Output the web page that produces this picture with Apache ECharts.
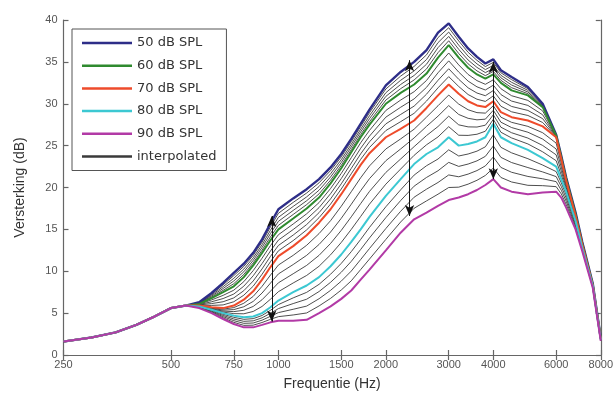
<!DOCTYPE html>
<html><head><meta charset="utf-8">
<script src="https://cdn.jsdelivr.net/npm/echarts@6/dist/echarts.min.js"></script>
<style>html,body{margin:0;padding:0;background:#fff}#c{width:616px;height:403px}</style>
</head><body><div id="c"></div>
<script>
// Frequencies (Hz) at which curves are sampled
const freqs = [250,300,350,400,450,500,550,600,650,700,750,800,850,900,950,1000,1100,1200,1300,1400,1500,1600,1700,1800,2000,2200,2400,2600,2800,3000,3200,3400,3600,3800,4000,4200,4500,5000,5500,6000,6200,6400,6800,7100,7600,8000];
// Gain (dB) per input level
const spl50 = [1.6,2.1,2.7,3.6,4.6,5.6,5.9,6.3,7.4,8.6,9.8,10.9,12.2,13.8,15.7,17.4,18.7,19.8,21.0,22.4,24.0,25.8,27.6,29.3,32.2,33.8,35.0,36.4,38.5,39.6,38.0,36.6,35.6,34.8,35.3,34.0,33.2,32.0,30.0,26.3,23.8,21.2,17.0,13.5,8.5,2.0];
const spl60 = [1.6,2.1,2.7,3.6,4.6,5.6,5.9,6.1,6.8,7.5,8.2,9.3,10.7,12.2,13.7,15.0,16.3,17.5,18.8,20.5,22.3,24.2,26.0,27.5,30.0,31.3,32.3,33.6,35.5,37.0,35.5,34.3,33.5,33.0,33.5,32.5,31.6,31.0,29.6,26.2,23.6,21.0,16.8,13.3,8.4,2.0];
const spl70 = [1.6,2.1,2.7,3.6,4.6,5.6,5.9,5.9,5.7,5.6,5.9,6.6,7.6,9.0,10.5,11.8,13.0,14.3,15.8,17.4,19.2,21.0,22.7,24.1,26.0,27.0,28.0,29.5,31.0,32.3,31.2,30.3,29.8,29.6,30.3,29.0,28.4,28.0,27.3,26.0,23.4,20.8,16.6,13.2,8.3,1.9];
const spl80 = [1.6,2.1,2.7,3.6,4.6,5.6,5.9,5.8,5.4,5.0,4.7,4.5,4.6,5.0,5.7,6.5,7.5,8.3,9.3,10.6,12.0,13.5,15.0,16.5,19.0,21.0,22.8,24.0,24.8,26.0,25.0,25.2,25.5,26.0,27.6,26.0,25.3,24.5,23.5,22.5,21.0,19.5,16.0,12.8,8.2,1.8];
const spl90 = [1.6,2.1,2.7,3.6,4.6,5.6,5.9,5.6,5.0,4.3,3.7,3.3,3.3,3.6,3.9,4.1,4.1,4.2,5.0,5.8,6.7,7.7,9.0,10.2,12.5,14.6,16.2,17.0,17.8,18.5,18.8,19.2,19.7,20.3,21.0,20.0,19.5,19.2,19.4,19.5,18.8,17.6,15.0,12.4,8.0,1.7];
const seriesNames = ['50 dB SPL','60 dB SPL','70 dB SPL','80 dB SPL','90 dB SPL'];
const interpName = 'interpolated';
const interpSteps = 4; // interpolated curves between neighbouring measured levels
// Double-headed arrows (annotation): frequency, top gain, bottom gain
const arrowFreqs = [958, 2330, 4000];
const arrowTop = [16.6, 35.2, 35.0];
const arrowBottom = [4.0, 16.6, 21.0];
const xTickLabels = [250,500,750,1000,1500,2000,3000,4000,6000,8000];

const levels = [spl50, spl60, spl70, spl80, spl90];
const colors = ['#2e2e88','#2f8a2f','#ee4b2b','#3cc8d2','#b23aa6'];
const widths = [2.4, 2, 2, 2, 2];
const lx = f => Math.log2(f);
const toData = arr => arr.map((v, i) => [lx(freqs[i]), v]);

const series = [];
for (let k = 0; k < levels.length - 1; k++) {
  for (let s = 1; s <= interpSteps; s++) {
    const t = s / (interpSteps + 1);
    const a = levels[k], b = levels[k + 1];
    series.push({
      name: interpName, type: 'line', symbol: 'none', silent: true, z: 2,
      lineStyle: {color: '#3a3a3a', width: 0.9},
      itemStyle: {color: '#3a3a3a'},
      data: toData(a.map((v, i) => v + (b[i] - v) * t))
    });
  }
}
levels.forEach((arr, k) => {
  series.push({
    name: seriesNames[k], type: 'line', symbol: 'none', silent: true, z: 3,
    lineStyle: {color: colors[k], width: widths[k]},
    itemStyle: {color: colors[k]},
    data: toData(arr)
  });
});
series.push({
  name: 'arrows', type: 'line', data: [], silent: true, z: 5,
  markLine: {
    silent: true, symbol: ['arrow', 'arrow'], symbolSize: [7, 11],
    label: {show: false},
    lineStyle: {color: '#111', width: 1, type: 'solid'},
    data: arrowFreqs.map((f, i) => [{coord: [lx(f), arrowTop[i]]}, {coord: [lx(f), arrowBottom[i]]}])
  }
});

const tickPos = xTickLabels.map(lx);
const axisLineStyle = {color: '#666', width: 1.2};
const fontFam = 'Liberation Sans, Arial, sans-serif';
const chart = echarts.init(document.getElementById('c'));
chart.setOption({
  animation: false,
  backgroundColor: '#fff',
  grid: {left: 63.5, right: 15, top: 20, bottom: 48},
  legend: {
    data: seriesNames.concat([interpName]),
    orient: 'vertical', left: 72, top: 29,
    padding: [7, 10, 7, 10],
    icon: 'rect',
    itemWidth: 50, itemHeight: 2.5, itemGap: 8.7,
    borderColor: '#555', borderWidth: 1, backgroundColor: '#fff',
    textStyle: {fontSize: 13, lineHeight: 14, color: '#333', fontFamily: 'DejaVu Sans, sans-serif'},
    selectedMode: false
  },
  xAxis: [{
    type: 'value', min: lx(250), max: lx(8000),
    name: 'Frequentie (Hz)', nameLocation: 'middle', nameGap: 22,
    nameTextStyle: {fontSize: 14, color: '#333', fontFamily: fontFam},
    axisLine: {show: true, lineStyle: axisLineStyle},
    axisTick: {show: true, inside: true, length: 5, customValues: tickPos, lineStyle: axisLineStyle},
    axisLabel: {customValues: tickPos, margin: 4, fontSize: 11, color: '#555', fontFamily: fontFam,
      formatter: v => String(Math.round(Math.pow(2, v)))},
    splitLine: {show: false}
  }, {
    type: 'value', position: 'top', min: lx(250), max: lx(8000),
    axisLine: {show: true, lineStyle: axisLineStyle},
    axisTick: {show: true, inside: true, length: 5, customValues: tickPos, lineStyle: axisLineStyle},
    axisLabel: {show: false}, splitLine: {show: false}
  }],
  yAxis: [{
    type: 'value', min: 0, max: 40, interval: 5,
    name: 'Versterking (dB)', nameLocation: 'middle', nameGap: 36,
    nameTextStyle: {fontSize: 14, color: '#333', fontFamily: fontFam},
    axisLine: {show: true, lineStyle: axisLineStyle},
    axisTick: {show: true, inside: true, length: 5, lineStyle: axisLineStyle},
    axisLabel: {margin: 6, fontSize: 11, color: '#555', fontFamily: fontFam},
    splitLine: {show: false}
  }, {
    type: 'value', position: 'right', min: 0, max: 40, interval: 5,
    axisLine: {show: true, lineStyle: axisLineStyle},
    axisTick: {show: true, inside: true, length: 5, lineStyle: axisLineStyle},
    axisLabel: {show: false}, splitLine: {show: false}
  }],
  series: series
});
</script></body></html>
